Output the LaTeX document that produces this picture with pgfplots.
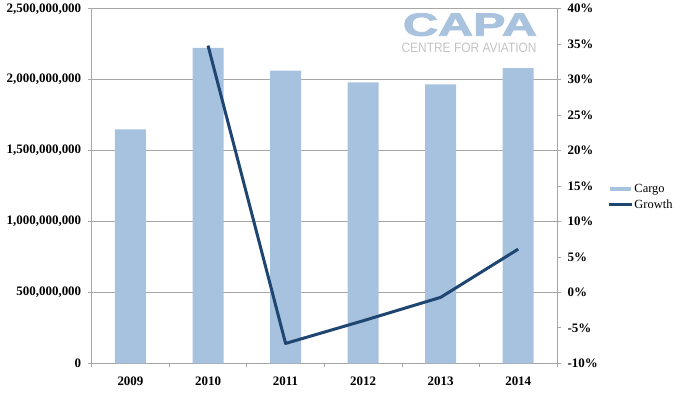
\documentclass[border=0pt]{standalone}
\usepackage{pgfplots}
\pgfplotsset{compat=1.18}
\usepackage{graphicx}
\usepackage{fontspec}
\setmainfont{Liberation Serif}
\newfontfamily\logofont{Liberation Sans}
\newfontfamily\logofontb{Liberation Sans Bold}[FakeBold=2.5]
\definecolor{barc}{HTML}{A7C2DF}
\definecolor{linec}{HTML}{1E4670}
\definecolor{gridc}{HTML}{A6A6A6}
\definecolor{logoc}{HTML}{A9C3DF}
\definecolor{logog}{HTML}{C4C4C4}
\begin{document}
\begin{tikzpicture}
\begin{axis}[
  scale only axis, width=465.3bp, height=354.6bp,
  xmin=-0.5, xmax=5.5, ymin=0, ymax=2.5e9,
  axis x line*=bottom, axis y line*=left,
  axis line style={gridc, line width=0.8bp},
  xtick={0,1,2,3,4,5}, xticklabels={2009,2010,2011,2012,2013,2014},
  major x tick style={draw=none},
  minor xtick={-0.5,0.5,1.5,2.5,3.5,4.5,5.5},
  ytick={0,500000000,1000000000,1500000000,2000000000,2500000000},
  scaled y ticks=false,
  yticklabel={\pgfmathprintnumber[fixed,precision=0,1000 sep={,},assume math mode=true]{\tick}},
  ymajorgrids, grid style={gridc, line width=0.8bp},
  tick align=outside, major tick length=4bp, minor tick length=4bp,
  tick style={gridc, line width=0.8bp},
  ticklabel style={font=\bfseries\fontsize{13}{15}\selectfont},
  xticklabel style={yshift=-6bp},
  yticklabel style={xshift=-3bp},
]
\addplot[ybar, bar width=31bp, bar shift=0pt, fill=barc, draw=none]
  coordinates {(0,1650000000) (1,2224000000) (2,2063000000) (3,1981000000) (4,1966000000) (5,2081000000)};
\coordinate (bl) at (rel axis cs:0,0);
\coordinate (tr) at (rel axis cs:1,1);
\end{axis}
\begin{axis}[
  scale only axis, width=465.3bp, height=354.6bp,
  xmin=-0.5, xmax=5.5, ymin=-10, ymax=40,
  axis x line=none, axis y line*=right,
  axis line style={gridc, line width=0.8bp},
  ytick={-10,-5,0,5,10,15,20,25,30,35,40},
  yticklabel={\pgfmathprintnumber[assume math mode=true]{\tick}\%},
  tick align=outside, major tick length=4bp,
  tick style={gridc, line width=0.8bp},
  ticklabel style={font=\bfseries\fontsize{13}{15}\selectfont},
  yticklabel style={xshift=3bp},
  clip=false,
  legend cell align=left,
  legend style={at={(rel axis cs:1.108,0.469)}, anchor=west, draw=none, fill=none,
    font=\fontsize{12.5}{14}\selectfont, row sep=4bp, inner sep=0pt,
    nodes={inner sep=1bp}},
]
\addlegendimage{legend image code/.code={\fill[barc] (0bp,-1.5bp) rectangle (20bp,1.5bp);}}
\addlegendentry{Cargo}
\addplot[linec, line width=3bp, line join=round, mark=none,
  legend image code/.code={\draw[linec, line width=3bp] (-1bp,0bp) -- (22bp,0bp);}]
  coordinates {(1,34.8) (2,-7.2) (3,-4.0) (4,-0.7) (5,6.1)};
\addlegendentry{Growth}
\node[inner sep=0pt, text=logoc] at (rel axis cs:0.813,0.955)
  {\resizebox{134bp}{22.5bp}{\logofontb CAPA}};
\node[inner sep=0pt, text=logog] at (rel axis cs:0.811,0.891)
  {\resizebox{135bp}{9.5bp}{\logofont CENTRE FOR AVIATION}};
\end{axis}
\path (bl) ++(-91.7bp,-29.7bp) coordinate (BL);
\path (tr) ++(125bp,8.7bp) coordinate (TR);
\pgfresetboundingbox
\path[use as bounding box] (BL) rectangle (TR);
\end{tikzpicture}
\end{document}
